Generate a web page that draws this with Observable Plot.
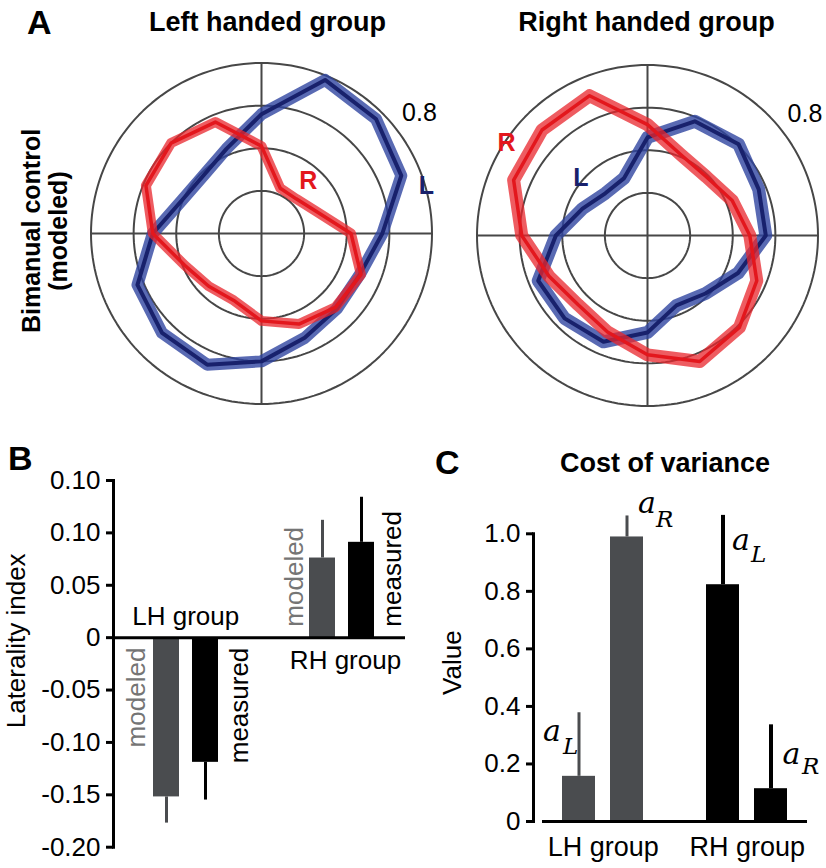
<!DOCTYPE html>
<html><head><meta charset="utf-8">
<script src="https://cdn.jsdelivr.net/npm/d3@7"></script>
<script src="https://cdn.jsdelivr.net/npm/@observablehq/plot@0.6"></script>
<style>
body{margin:0;background:#fff;}
#fig{position:relative;width:826px;height:868px;overflow:hidden;font-family:"Liberation Sans",Arial,sans-serif;color:#000;}
.panel{position:absolute;}
.panel svg{display:block;}
.title{position:absolute;font-weight:bold;font-size:27px;line-height:1;white-space:nowrap;transform:translateX(-50%);}
.letter{position:absolute;font-weight:bold;font-size:34px;line-height:1;}
#ylabA{position:absolute;left:-85.5px;top:204px;width:260px;height:54px;font-weight:bold;font-size:25px;line-height:27px;text-align:center;transform:rotate(-90deg);transform-origin:50% 50%;white-space:nowrap;}
</style></head><body>
<div id="fig">
  <div class="letter" style="left:27px;top:5px">A</div>
  <div class="title" style="left:267.5px;top:9px">Left handed group</div>
  <div class="title" style="left:646.5px;top:9px">Right handed group</div>
  <div id="ylabA">Bimanual control<br>(modeled)</div>
  <div id="pA1" class="panel" style="left:81px;top:52.5px;width:360px;height:360px"></div>
  <div id="pA2" class="panel" style="left:467px;top:55px;width:360px;height:360px"></div>
  <div class="letter" style="left:8px;top:441px">B</div>
  <div id="pB" class="panel" style="left:0px;top:420px;width:420px;height:448px"></div>
  <div class="letter" style="left:435px;top:445px">C</div>
  <div class="title" style="left:665px;top:450px">Cost of variance</div>
  <div id="pC" class="panel" style="left:420px;top:420px;width:406px;height:448px"></div>
</div>
<script>
// ---------- Panel A data: bimanual control (modeled) by movement direction ----------
const angles = [0, 22.5, 45, 67.5, 90, 112.5, 135, 157.5, 180, 202.5, 225, 247.5, 270, 292.5, 315, 337.5];
const lhGroupL = [0.567, 0.71, 0.76, 0.78, 0.56, 0.43, 0.385, 0.405, 0.51, 0.63, 0.66, 0.666, 0.60, 0.53, 0.50, 0.50];
const lhGroupR = [0.42, 0.275, 0.23, 0.23, 0.41, 0.566, 0.60, 0.587, 0.51, 0.39, 0.35, 0.34, 0.41, 0.46, 0.49, 0.505];
const rhGroupL = [0.555, 0.565, 0.605, 0.58, 0.46, 0.29, 0.28, 0.33, 0.43, 0.555, 0.55, 0.54, 0.455, 0.355, 0.385, 0.46];
const rhGroupR = [0.48, 0.43, 0.39, 0.41, 0.52, 0.71, 0.70, 0.68, 0.59, 0.50, 0.46, 0.49, 0.56, 0.64, 0.61, 0.555];
const ringValues = [0.2, 0.4, 0.6, 0.8];
const ringLabel = "0.8";

// ---------- Panel B data: laterality index ----------
const bGroups = ["LH group", "LH group", "RH group", "RH group"];
const bTypes = ["modeled", "measured", "modeled", "measured"];
const bValues = [-0.152, -0.119, 0.076, 0.091];
const bErrors = [-0.025, -0.036, 0.036, 0.043];
const bTicks = [-0.20, -0.15, -0.10, -0.05, 0, 0.05, 0.10, 0.15];
const bTickLabels = ["-0.20", "-0.15", "-0.10", "-0.05", "0", "0.05", "0.10", "0.10"];

// ---------- Panel C data: cost of variance ----------
const cGroups = ["LH group", "LH group", "RH group", "RH group"];
const cParams = ["L", "R", "L", "R"];
const cValues = [0.157, 0.989, 0.823, 0.114];
const cErrors = [0.221, 0.073, 0.241, 0.222];
const cTicks = [0, 0.2, 0.4, 0.6, 0.8, 1.0];
const cTickLabels = ["0", "0.2", "0.4", "0.6", "0.8", "1.0"];

// ---------- styling ----------
const FONT = "'Liberation Sans', Arial, sans-serif";
const SERIF = "'DejaVu Serif', 'Liberation Serif', serif";
const GRID = "#474747";
const RED = "#e3171d", RED_BAND = "#e8262c";
const BLUE = "#18216c", BLUE_BAND = "#3045a0";
const GRAY = "#4a4c4f";
const LABEL_GRAY = "#757575";
const rad = a => a * Math.PI / 180;
const baseStyle = {fontFamily: FONT, background: "transparent", overflow: "visible", color: "#000"};

function polar(series, labels) {
  const ringPts = ringValues.flatMap(r => d3.range(0, 361, 2).map(a => ({r, a})));
  const marks = [
    Plot.line(ringPts, {x: d => d.r * Math.cos(rad(d.a)), y: d => d.r * Math.sin(rad(d.a)), z: "r", stroke: GRID, strokeWidth: 2}),
    Plot.ruleX([0], {stroke: GRID, strokeWidth: 2}),
    Plot.ruleY([0], {stroke: GRID, strokeWidth: 2})
  ];
  for (const s of series) {
    const rows = angles.map((a, i) => ({a, v: s.values[i]}));
    const o = {x: d => d.v * Math.cos(rad(d.a)), y: d => d.v * Math.sin(rad(d.a)), curve: "linear-closed", strokeLinejoin: "round"};
    marks.push(Plot.line(rows, {...o, stroke: s.band, strokeWidth: s.bandWidth, strokeOpacity: s.bandOpacity}));
    marks.push(Plot.line(rows, {...o, stroke: s.core, strokeWidth: s.coreWidth}));
  }
  for (const l of labels) {
    marks.push(Plot.text([l.text], {x: [l.x], y: [l.y], text: d => d, fill: l.fill, fontSize: l.size, fontWeight: l.weight, fontFamily: FONT}));
  }
  return Plot.plot({
    width: 360, height: 360, margin: 9.5,
    x: {domain: [-0.8, 0.8], axis: null},
    y: {domain: [-0.8, 0.8], axis: null},
    style: baseStyle,
    marks
  });
}

document.getElementById("pA1").appendChild(polar(
  [
    {values: lhGroupL, core: BLUE, band: BLUE_BAND, coreWidth: 4, bandWidth: 12, bandOpacity: 0.8},
    {values: lhGroupR, core: RED, band: RED_BAND, coreWidth: 3.5, bandWidth: 10, bandOpacity: 0.75}
  ],
  [
    {text: "R", x: 0.219, y: 0.245, fill: RED, size: 25, weight: "bold"},
    {text: "L", x: 0.774, y: 0.224, fill: BLUE, size: 25, weight: "bold"},
    {text: ringLabel, x: 0.741, y: 0.567, fill: "#000", size: 25, weight: "normal"}
  ]
));

document.getElementById("pA2").appendChild(polar(
  [
    {values: rhGroupL, core: BLUE, band: BLUE_BAND, coreWidth: 4, bandWidth: 13, bandOpacity: 0.8},
    {values: rhGroupR, core: RED, band: RED_BAND, coreWidth: 3.5, bandWidth: 13, bandOpacity: 0.75}
  ],
  [
    {text: "R", x: -0.662, y: 0.432, fill: RED, size: 25, weight: "bold"},
    {text: "L", x: -0.312, y: 0.272, fill: BLUE, size: 25, weight: "bold"},
    {text: ringLabel, x: 0.739, y: 0.568, fill: "#000", size: 25, weight: "normal"}
  ]
));

// ---------- Panel B ----------
{
  const rows = bValues.map((v, i) => ({key: bGroups[i] + "|" + bTypes[i], group: bGroups[i], type: bTypes[i], value: v, end: v + bErrors[i]}));
  const domain = [rows[0].key, rows[1].key, "gap1", "gap2", rows[2].key, rows[3].key];
  const col = d => d.type === "modeled" ? GRAY : "#000";
  const lab = v => bTickLabels[bTicks.findIndex(t => Math.abs(t - v) < 1e-9)];
  const pick = (g, t) => rows.filter(d => d.group === g && d.type === t);
  const labelMark = (g, t, dx) => Plot.text(pick(g, t), {
    x: "key", y: 0, text: "type", rotate: -90,
    textAnchor: g === "LH group" ? "end" : "start",
    dx, dy: g === "LH group" ? 10 : -11,
    fill: t === "modeled" ? LABEL_GRAY : "#000", fontSize: 26
  });
  const chart = Plot.plot({
    width: 420, height: 448,
    marginLeft: 113, marginRight: 15, marginTop: 60, marginBottom: 21.3,
    x: {type: "band", domain, range: [144.75, 381.75], paddingInner: 0.34, paddingOuter: 0.17, axis: null},
    y: {domain: [-0.2, 0.15], range: [426.7, 60]},
    style: baseStyle,
    marks: [
      Plot.ruleX(rows, {x: "key", y1: "value", y2: "end", stroke: col, strokeWidth: 3}),
      Plot.barY(rows, {x: "key", y1: 0, y2: "value", fill: col}),
      Plot.ruleY([0], {stroke: "#000", strokeWidth: 3}),
      Plot.frame({anchor: "left", stroke: "#000", strokeWidth: 3}),
      Plot.axisY({ticks: bTicks, tickFormat: lab, tickSize: 7, tickPadding: 6, strokeWidth: 3, fontSize: 26, label: null}),
      Plot.text(["Laterality index"], {frameAnchor: "left", rotate: -90, textAnchor: "middle", dx: -97, dy: -23, fontSize: 26}),
      labelMark("LH group", "modeled", -29.5),
      labelMark("LH group", "measured", 34),
      labelMark("RH group", "modeled", -27.5),
      labelMark("RH group", "measured", 31.5),
      Plot.text(pick("LH group", "measured"), {x: "key", y: 0, text: "group", dx: -19.75, dy: -12.7, lineAnchor: "bottom", fontSize: 26}),
      Plot.text(pick("RH group", "measured"), {x: "key", y: 0, text: "group", dx: -16, dy: 31.6, lineAnchor: "bottom", fontSize: 26})
    ]
  });
  document.getElementById("pB").appendChild(chart);
}

// ---------- Panel C ----------
{
  const rows = cValues.map((v, i) => ({key: cGroups[i] + "|" + cParams[i], group: cGroups[i], param: cParams[i], value: v, end: v + cErrors[i]}));
  const domain = [rows[0].key, rows[1].key, "gap", rows[2].key, rows[3].key];
  const col = d => d.group === "LH group" ? GRAY : "#000";
  const lab = v => cTickLabels[cTicks.findIndex(t => Math.abs(t - v) < 1e-9)];
  // label placement relative to the top of each whisker: [a dx, a dy, subscript dx, subscript dy]
  const labelOffsets = [[-36, 28.7, -16, 41], [11, -2.7, 29, 11.3], [9, 35, 28, 47], [11.5, 39, 31, 49]];
  const marks = [
    Plot.ruleX(rows, {x: "key", y1: "value", y2: "end", stroke: col, strokeWidth: d => d.group === "LH group" ? 3 : 4}),
    Plot.barY(rows, {x: "key", y1: 0, y2: "value", fill: col}),
    Plot.ruleY([0], {stroke: "#000", strokeWidth: 3, insetLeft: 9}),
    Plot.frame({anchor: "left", stroke: "#000", strokeWidth: 3}),
    Plot.axisY({ticks: cTicks, tickFormat: lab, tickSize: 7, tickPadding: 6, strokeWidth: 3, fontSize: 26, label: null}),
    Plot.text(["Value"], {frameAnchor: "left", rotate: -90, textAnchor: "middle", dx: -81, dy: -15, fontSize: 26}),
    Plot.text(rows.filter(d => d.param === "L"), {x: "key", y: 0, text: "group", dx: 24.25, dy: 34, lineAnchor: "bottom", fontSize: 27})
  ];
  rows.forEach((d, i) => {
    const [ax, ay, sx, sy] = labelOffsets[i];
    marks.push(Plot.text([d], {x: "key", y: "end", text: () => "a", textAnchor: "start", lineAnchor: "bottom", dx: ax, dy: ay, fontFamily: SERIF, fontStyle: "italic", fontSize: 30}));
    marks.push(Plot.text([d], {x: "key", y: "end", text: "param", textAnchor: "start", lineAnchor: "bottom", dx: sx, dy: sy, fontFamily: SERIF, fontStyle: "italic", fontSize: 23}));
  });
  const chart = Plot.plot({
    width: 406, height: 448,
    marginLeft: 113, marginRight: 19, marginTop: 113.3, marginBottom: 47,
    x: {type: "band", domain, range: [132.75, 375.25], paddingInner: 0.32, paddingOuter: 0.16, axis: null},
    y: {domain: [0, 1], range: [401, 113.3]},
    style: baseStyle,
    marks
  });
  document.getElementById("pC").appendChild(chart);
}
</script>
</body></html>
